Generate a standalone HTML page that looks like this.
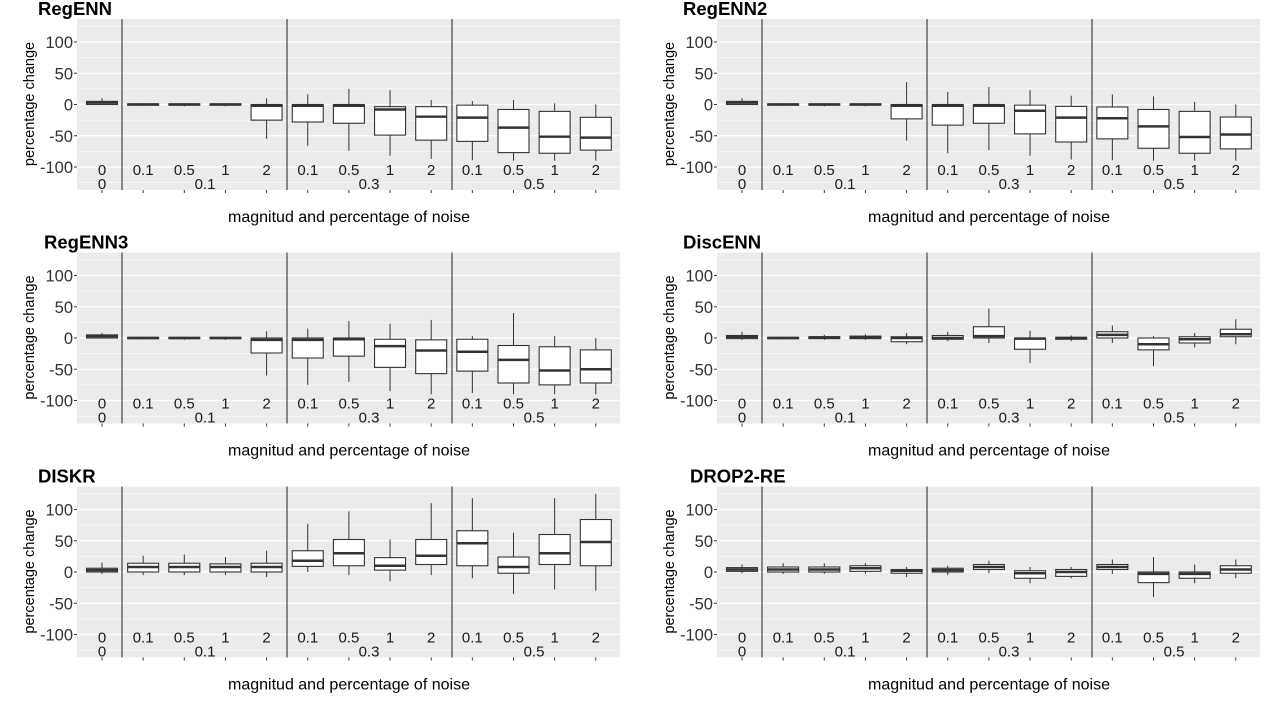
<!DOCTYPE html>
<html><head><meta charset="utf-8"><style>
html,body{margin:0;padding:0;background:#fff;}
svg{display:block;font-family:"Liberation Sans",Arial,sans-serif;}
</style></head><body>
<svg id="s" width="1280" height="701" xmlns="http://www.w3.org/2000/svg"></svg>
<script>
const P=[
{t:"RegENN",tx:38,d:[[0,0,3,5,10],[-2,-1,0,1,2],[-3,-1,0,1,2],[-3,-1,0,1,2],[-55,-25,-2,0,10],
[-66,-28,-2,0,16],[-74,-30,-2,0,25],[-82,-49,-8,-3.5,23],[-87,-57,-19.5,-3.5,7],
[-89,-59,-21,-1,5.6],[-90,-77,-37,-8,7],[-90,-78,-51.5,-11,2],[-90,-73,-53,-20.5,0]]},
{t:"RegENN2",tx:683,d:[[0,0,3,5,10],[-2,-1,0,1,2],[-3,-1,0,1,2],[-3,-1,0,1,2],[-58,-23,-2,0,36],
[-78,-33,-2,0,20],[-73,-30,-2,0,28],[-82,-47,-10,-1,23],[-88,-60,-21,-3,14],
[-89,-55,-22,-4,16],[-90,-70,-35,-8,13],[-90,-78,-52,-11,4],[-90,-71,-48,-20,0]]},
{t:"RegENN3",tx:44,d:[[0,0,3,5,8],[-2,-1,0,1,2],[-3,-1,0,1,2],[-3,-1,0,1,2],[-60,-24,-3,0,11],
[-75,-32,-3,0,15],[-70,-29,-2,0,27],[-85,-47,-13,-2,23],[-90,-57,-20,-3,29],
[-88,-53,-22,-2,3],[-90,-72,-35,-12,40],[-90,-75,-52,-14,3],[-90,-72,-50,-19,0]]},
{t:"DiscENN",tx:683,d:[[-3,-1,2,4,10],[-2,-1,0,1,2],[-3,-1,1,2,5],[-3,-1,1,3,6],[-10,-6,0,2,8],
[-5,-2,0,4,10],[-8,0,3,18,47],[-40,-18,-1,0,12],[-5,-2,0,1,4],
[-8,0,5,10,20],[-45,-19,-10,0,3],[-15,-8,-2,2,8],[-10,2,6,14,30]]},
{t:"DISKR",tx:38,d:[[-3,0,3,6,15],[-5,0,8,14,26],[-5,0,8,14,28],[-5,0,8,13,24],[-8,0,8,14,34],
[0,9,18,34,77],[-5,10,30,52,97],[-15,3,10,23,52],[-5,12,26,52,110],
[-10,10,46,66,118],[-35,-2,8,24,63],[-28,12,30,60,118],[-30,10,48,84,125]]},
{t:"DROP2-RE",tx:690,d:[[-2,1,4,7,12],[-3,0,4,8,14],[-3,0,4,8,14],[-3,1,6,10,14],[-8,-2,2,4,8],
[-5,0,3,6,10],[-2,4,8,12,18],[-18,-10,-2,2,8],[-10,-7,0,4,8],
[-3,4,8,12,20],[-40,-17,-3,0,24],[-18,-10,-3,0,12],[-10,-2,4,10,20]]}
];
const lab=["0","0.1","0.5","1","2","0.1","0.5","1","2","0.1","0.5","1","2"];
let h="";
P.forEach((p,i)=>{
 const ox=(i%2)*640, oy=[0,233.5,467.5][Math.floor(i/2)];
 const z=oy+104.5, k=0.625, Y=v=>z-v*k;
 const x0=ox+77,x1=ox+620;
 h+=`<rect x="${x0}" y="${oy+19}" width="543" height="171" fill="#ebebeb"/>`;
 [-125,-75,-25,25,75,125].forEach(v=>h+=`<line x1="${x0}" x2="${x1}" y1="${Y(v)}" y2="${Y(v)}" stroke="#fff" stroke-width="0.6"/>`);
 [-100,-50,0,50,100].forEach(v=>{h+=`<line x1="${x0}" x2="${x1}" y1="${Y(v)}" y2="${Y(v)}" stroke="#fff" stroke-width="1.2"/>`;
  h+=`<line x1="${x0-3}" x2="${x0}" y1="${Y(v)}" y2="${Y(v)}" stroke="#333"/>`;
  h+=`<text x="${x0-4}" y="${Y(v)+6}" font-size="16.5" fill="#333" text-anchor="end">${v}</text>`;});
 [122,287,452].forEach(sx=>h+=`<line x1="${ox+sx}" x2="${ox+sx}" y1="${oy+19}" y2="${oy+190}" stroke="#222" stroke-width="1"/>`);
 p.d.forEach((b,j)=>{
  const cx=ox+102+j*41.15, w=31;
  h+=`<line x1="${cx}" x2="${cx}" y1="${Y(b[4])}" y2="${Y(b[0])}" stroke="#333"/>`;
  h+=`<rect x="${cx-w/2}" y="${Y(b[3])}" width="${w}" height="${Math.max(0.5,Y(b[1])-Y(b[3]))}" fill="#fff" stroke="#333" stroke-width="1.1"/>`;
  h+=`<line x1="${cx-w/2}" x2="${cx+w/2}" y1="${Y(b[2])}" y2="${Y(b[2])}" stroke="#333" stroke-width="2.4"/>`;
  h+=`<line x1="${cx}" x2="${cx}" y1="${oy+190}" y2="${oy+193}" stroke="#333"/>`;
  h+=`<text x="${cx}" y="${oy+175}" font-size="15" fill="#1a1a1a" text-anchor="middle">${lab[j]}</text>`;
 });
 [[102,"0"],[205,"0.1"],[369,"0.3"],[534,"0.5"]].forEach(a=>h+=`<text x="${ox+a[0]}" y="${oy+189}" font-size="15" fill="#1a1a1a" text-anchor="middle">${a[1]}</text>`);
 h+=`<text x="${ox+p.tx-(i%2?640:0)}" y="${oy+15}" font-size="18.5" font-weight="bold" fill="#000">${p.t}</text>`;
 h+=`<text transform="translate(${ox+34},${oy+104}) rotate(-90)" font-size="14.5" fill="#000" text-anchor="middle">percentage change</text>`;
 h+=`<text x="${ox+349}" y="${oy+222}" font-size="16" fill="#000" text-anchor="middle">magnitud and percentage of noise</text>`;
});
document.getElementById("s").innerHTML=h;
</script>
</body></html>
